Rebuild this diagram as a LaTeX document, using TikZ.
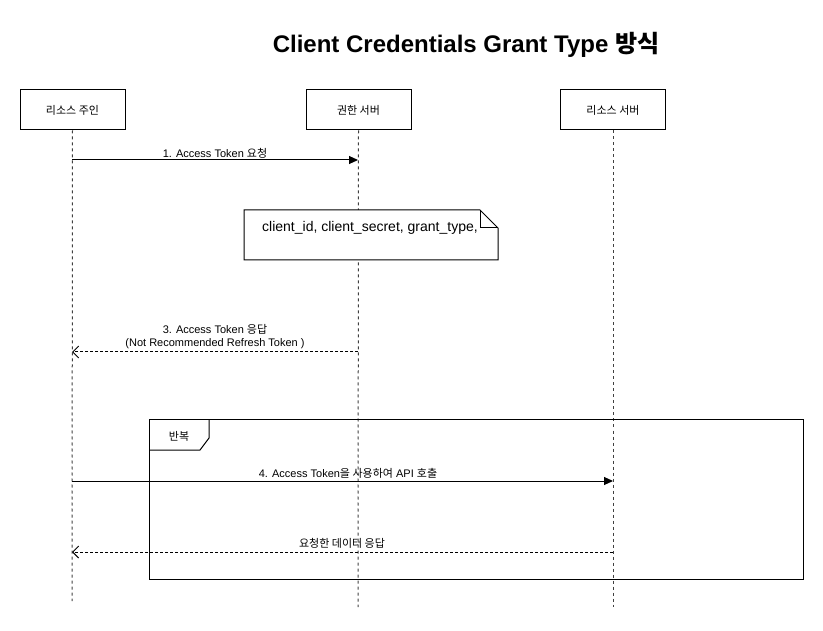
\documentclass[tikz,border=0pt]{standalone}
\usepackage{fontspec}
\setmainfont{Liberation Sans}
\newfontfamily\kr{Noto Sans CJK KR}
\usetikzlibrary{arrows.meta}
\begin{document}
\begin{tikzpicture}[x=1pt,y=-1pt,
  actor/.style={draw, line width=1pt, minimum width=105pt, minimum height=40pt, inner sep=0pt, font=\fontsize{11}{13}\selectfont},
  lifeline/.style={draw=black!75, line width=1pt, dash pattern=on 3pt off 3pt},
  msg/.style={line width=1pt, -{Triangle[length=9pt,width=8pt]}},
  reply/.style={line width=1pt, dash pattern=on 3pt off 2pt, -{Straight Barb[length=6pt,width=12pt]}},
  lbl/.style={font=\fontsize{11}{13}\selectfont, inner sep=0pt, align=center}]
\useasboundingbox (0,0) rectangle (823,631);

% title
\node[font=\fontsize{24}{28}\selectfont\bfseries] (title) at (466,45) {Client Credentials Grant Type {\kr 방식}};

% actors
\node[actor] (ro) at (72.5,110) {\kr 리소스 주인};
\node[actor] (as) at (358.5,110) {\kr 권한 서버};
\node[actor] (rs) at (613,110) {\kr 리소스 서버};

% lifeline ends
\coordinate (roEnd) at (72,601);
\coordinate (asEnd) at (358,607);
\coordinate (rsEnd) at (613,607);
\draw[lifeline] (ro.south) -- (roEnd);
\draw[lifeline] (as.south) -- (asEnd);
\draw[lifeline] (rs.south) -- (rsEnd);

% message points
\coordinate (ro1) at (72,160);
\coordinate (as1) at (358,160);
\coordinate (as3) at (358,352);
\coordinate (ro3) at (72,352);
\coordinate (ro4) at (72,481);
\coordinate (rs4) at (613,481);
\coordinate (rs5) at (613,552);
\coordinate (ro5) at (72,552);

% note
\draw[line width=1pt, fill=white] (244,210) -- (480,210) -- (498,228) -- (498,260) -- (244,260) -- cycle;
\draw[line width=1pt] (480,210) -- (480,228) -- (498,228);
\node[anchor=west, font=\fontsize{14}{16}\selectfont, inner sep=0pt] (note) at (262,228) {client\_id, client\_secret, grant\_type,};

% loop frame
\draw[line width=1pt] (149,420) rectangle (803,579);
\draw[line width=1pt] (149,450) -- (200,450) -- (209,438) -- (209,420);
\node[font=\fontsize{11}{13}\selectfont, inner sep=0pt] (loop) at (179,436) {\kr 반복};

% messages
\draw[msg] (ro1) -- (as1);
\node[lbl] (l1) at (215,153) {1. Access Token {\kr 요청}};

\draw[reply] (as3) -- (ro3);
\node[lbl, align=center] (l3) at (215,337) {3. Access Token {\kr 응답}\\(Not Recommended Refresh Token )};

\draw[msg] (ro4) -- (rs4);
\node[lbl] (l4) at (348,473) {4. Access Token{\kr 을 사용하여} API {\kr 호출}};

\draw[reply] (rs5) -- (ro5);
\node[lbl] (l5) at (342,543) {\kr 요청한 데이터 응답};
\end{tikzpicture}
\end{document}
